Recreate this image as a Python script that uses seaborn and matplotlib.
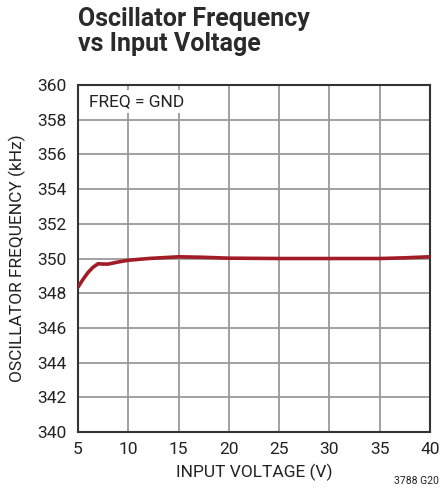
import matplotlib
matplotlib.use("Agg")
import matplotlib.pyplot as plt
import seaborn as sns
import pandas as pd

voltage = [5.0, 5.5, 6.0, 6.5, 7.0, 7.5, 8.0, 9.0, 10.0, 12.0, 15.0, 17.5, 20.0, 25.0, 30.0, 35.0, 37.5, 40.0]
freq = [348.35, 348.8, 349.2, 349.5, 349.7, 349.68, 349.68, 349.8, 349.9, 350.0, 350.1, 350.07, 350.02, 350.0, 350.0, 350.0, 350.04, 350.1]
x_ticks = [5, 10, 15, 20, 25, 30, 35, 40]
y_ticks = [340, 342, 344, 346, 348, 350, 352, 354, 356, 358, 360]

sns.set_theme(style="white")
fam = ["Roboto", "DejaVu Sans"]
plt.rcParams["font.family"] = fam

fig = plt.figure(figsize=(4.41, 4.96), dpi=100)
ax = fig.add_axes([0.1769, 0.129, 0.7981, 0.6996])

df = pd.DataFrame({"v": voltage, "f": freq})
sns.lineplot(data=df, x="v", y="f", ax=ax, color="#a11c26", linewidth=2.6, zorder=3)

ax.set_xlim(5, 40)
ax.set_ylim(340, 360)
ax.set_xticks(x_ticks)
ax.set_yticks(y_ticks)
ax.set_xticklabels([str(t) for t in x_ticks], fontsize=12.5, color="#222222")
ax.set_yticklabels([str(t) for t in y_ticks], fontsize=12.5, color="#222222")
ax.tick_params(axis="x", length=0, pad=7)
ax.tick_params(axis="y", length=0, pad=8)
ax.grid(True, color="#9a9a9a", linewidth=1.3)
for s in ax.spines.values():
    s.set_color("#333333")
    s.set_linewidth(1.5)
    s.set_visible(True)

ax.set_xlabel("INPUT VOLTAGE (V)", fontsize=12.5, color="#222222", labelpad=5)
ax.set_ylabel("OSCILLATOR FREQUENCY (kHz)", fontsize=12.5, color="#222222", labelpad=8)

ax.text(0.03, 0.975, "FREQ = GND", transform=ax.transAxes, fontsize=12.5, color="#222222",
        ha="left", va="top", zorder=4,
        bbox=dict(facecolor="white", edgecolor="none", pad=3))

fig.text(0.177, 0.985, "Oscillator Frequency\nvs Input Voltage", fontsize=18, fontweight="bold",
         color="#2a2a2a", ha="left", va="top", linespacing=1.05)
fig.text(0.995, 0.02, "3788 G20", fontsize=7.5, color="#222222", ha="right", va="bottom")

fig.savefig("out.png", dpi=100)
